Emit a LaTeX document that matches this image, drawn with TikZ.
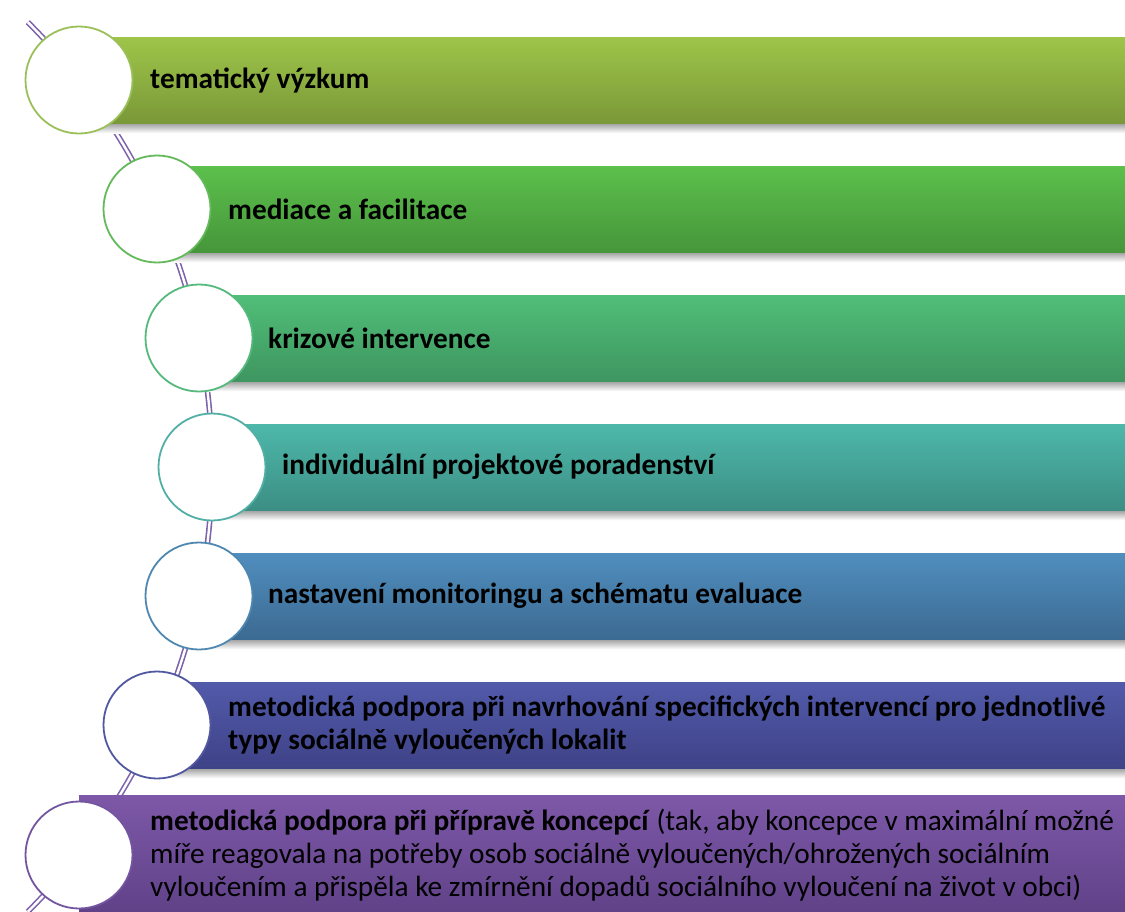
\documentclass[tikz,border=0pt]{standalone}
\usepackage{fontspec}
\setmainfont{Carlito}
\definecolor{arcc}{RGB}{125,98,172}
\definecolor{aT}{RGB}{158,197,73}\definecolor{aB}{RGB}{122,152,56}\definecolor{aC}{RGB}{155,192,90}
\definecolor{bT}{RGB}{92,192,76}\definecolor{bB}{RGB}{70,150,58}\definecolor{bC}{RGB}{100,185,90}
\definecolor{cT}{RGB}{80,190,120}\definecolor{cB}{RGB}{62,150,96}\definecolor{cC}{RGB}{85,185,125}
\definecolor{dT}{RGB}{77,184,170}\definecolor{dB}{RGB}{60,142,132}\definecolor{dC}{RGB}{82,175,165}
\definecolor{eT}{RGB}{80,142,190}\definecolor{eB}{RGB}{60,106,146}\definecolor{eC}{RGB}{78,135,175}
\definecolor{fT}{RGB}{82,90,170}\definecolor{fB}{RGB}{62,66,135}\definecolor{fC}{RGB}{82,88,160}
\definecolor{gT}{RGB}{125,88,168}\definecolor{gB}{RGB}{95,65,135}\definecolor{gC}{RGB}{115,85,160}
\begin{document}
\begin{tikzpicture}[x=1pt,y=-1pt,
  bar/.style={rectangle, draw=none, inner sep=0pt, anchor=north west, minimum width=1046pt},
  shad/.style={rectangle, draw=none, inner sep=0pt, anchor=north west, minimum width=1046pt, minimum height=10pt, top color=black!38, bottom color=white},
  circ/.style={circle, draw=#1, line width=1.8pt, fill=white, minimum size=107pt, inner sep=0pt},
  lbl/.style={anchor=west, align=left, font=\fontsize{29.3}{33}\selectfont, inner sep=0pt, text=black},
]
\useasboundingbox (0,0) rectangle (1125,911);
\clip (0,0) rectangle (1125,911);
\fill[white] (0,0) rectangle (1125,911);
% curved spine
\draw[draw=arcc, line width=1.6pt, double=white, double distance=2.4pt] (27.8,22.2) arc[start angle=-45, end angle=45, radius=629];
% shadows
\node[shad] (s1) at (79,123) {};
\node[shad] (s2) at (157,252) {};
\node[shad] (s3) at (199,381) {};
\node[shad] (s4) at (212,510) {};
\node[shad] (s5) at (199,639) {};
\node[shad] (s6) at (157,768) {};
% bars
\node[bar, minimum height=86pt, top color=aT, bottom color=aB] (b1) at (79,37) {};
\node[bar, minimum height=86pt, top color=bT, bottom color=bB] (b2) at (157,166) {};
\node[bar, minimum height=86pt, top color=cT, bottom color=cB] (b3) at (199,295) {};
\node[bar, minimum height=86pt, top color=dT, bottom color=dB] (b4) at (212,424) {};
\node[bar, minimum height=86pt, top color=eT, bottom color=eB] (b5) at (199,553) {};
\node[bar, minimum height=86pt, top color=fT, bottom color=fB] (b6) at (157,682) {};
\node[bar, minimum height=122pt, top color=gT, bottom color=gB] (b7) at (79,795) {};
% circles
\node[circ=aC] (c1) at (79,80) {};
\node[circ=bC] (c2) at (157,209) {};
\node[circ=cC] (c3) at (199,338) {};
\node[circ=dC] (c4) at (212,467) {};
\node[circ=eC] (c5) at (199,596) {};
\node[circ=fC] (c6) at (157,725) {};
\node[circ=gC] (c7) at (79,855) {};
% labels
\node[lbl] (t1) at (150,80) {\bfseries tematický výzkum};
\node[lbl] (t2) at (228,209) {\bfseries mediace a facilitace};
\node[lbl] (t3) at (268,338) {\bfseries krizové intervence};
\node[lbl] (t4) at (282,467) {\bfseries individuální projektové poradenství};
\node[lbl] (t5) at (268,596) {\bfseries nastavení monitoringu a schématu evaluace};
\node[lbl] (t6) at (228,725) {\bfseries metodická podpora při navrhování specifických intervencí pro jednotlivé\\\bfseries typy sociálně vyloučených lokalit};
\node[lbl] (t7) at (150,855) {\textbf{metodická podpora při přípravě koncepcí} (tak, aby koncepce v maximální možné\\míře reagovala na potřeby osob sociálně vyloučených/ohrožených sociálním\\vyloučením a přispěla ke zmírnění dopadů sociálního vyloučení na život v obci)};
\end{tikzpicture}
\end{document}
